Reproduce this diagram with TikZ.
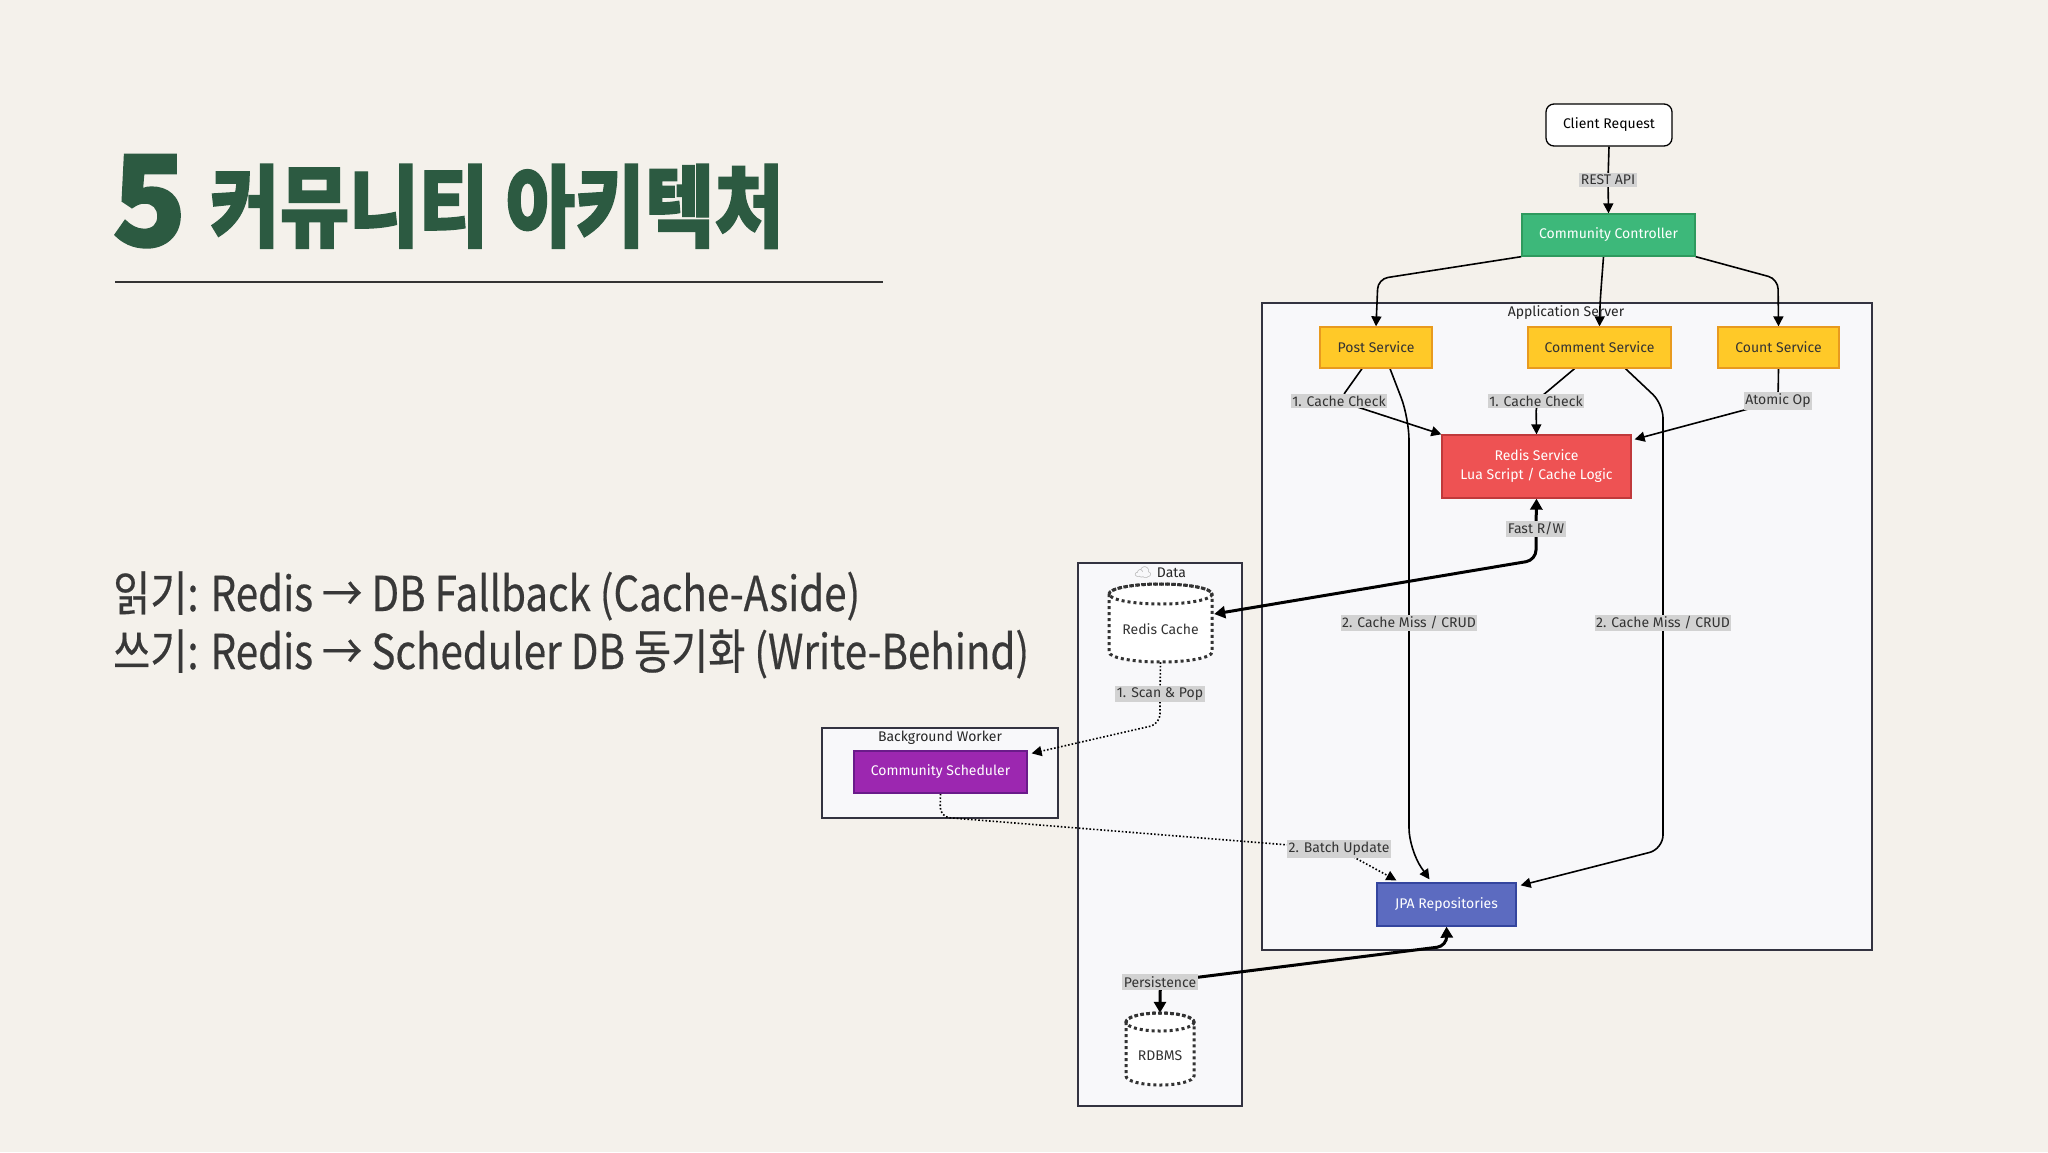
\documentclass[tikz,border=0pt]{standalone}
\usepackage{fontspec}
\usetikzlibrary{arrows.meta,calc}
\setmainfont{Fira Sans}
\newfontfamily\krfont{Noto Sans CJK KR}[FakeStretch=0.84, FakeBold=0.4]
\newfontfamily\krtitle{Noto Sans CJK KR}[FakeStretch=0.84, BoldFeatures={FakeBold=1.5}]
\newfontfamily\krfive{Noto Sans CJK KR}[FakeStretch=0.97, BoldFeatures={FakeBold=1.5}]
\newfontfamily\emojifont{Noto Emoji}
\definecolor{bgc}{HTML}{F4F1EB}
\definecolor{titlegreen}{HTML}{2C5A41}
\definecolor{bodytxt}{HTML}{383838}
\definecolor{clusf}{HTML}{F8F8FA}
\definecolor{clusb}{HTML}{333340}
\definecolor{lblgray}{HTML}{D2D2D2}
\definecolor{txtc}{HTML}{333333}
\definecolor{gfill}{HTML}{3DB87A}
\definecolor{gbord}{HTML}{2E9A5E}
\definecolor{yfill}{HTML}{FFC928}
\definecolor{ybord}{HTML}{E89A1E}
\definecolor{rfill}{HTML}{EE5253}
\definecolor{rbord}{HTML}{C0393B}
\definecolor{pfill}{HTML}{9C27B0}
\definecolor{pbord}{HTML}{6A1B8A}
\definecolor{bfill}{HTML}{5C6BC0}
\definecolor{bbord}{HTML}{34459E}
\pgfdeclarelayer{bglayer}
\pgfdeclarelayer{edgelayer}
\pgfsetlayers{bglayer,edgelayer,main}
\tikzset{
  nd/.style={draw, line width=1.3pt, inner sep=0pt, font=\fontsize{14}{17}\selectfont, align=center},
  lbl/.style={fill=lblgray, inner xsep=1.5pt, inner ysep=2pt, text=txtc, font=\fontsize{14}{16}\selectfont},
  clus/.style={draw=clusb, fill=clusf, line width=1.5pt},
  ctitle/.style={font=\fontsize{14}{16}\selectfont, text=black!85, inner sep=0pt},
  edge/.style={line width=1.6pt, -{Triangle[length=10pt,width=10pt]}, rounded corners=10pt},
  thk/.style={line width=3pt, {Triangle[length=11pt,width=12pt]}-{Triangle[length=11pt,width=12pt]}, rounded corners=10pt},
  dotedge/.style={line width=1.6pt, dotted, -{Triangle[length=10pt,width=10pt]}, rounded corners=10pt},
  cyl/.style={line width=3pt, dash pattern=on 3pt off 3pt, draw=black!80, fill=white},
}
\begin{document}
\begin{tikzpicture}[x=1pt,y=-1pt]
\useasboundingbox (0,0) rectangle (2048,1152);
\begin{pgfonlayer}{bglayer}
\fill[bgc] (0,0) rectangle (2048,1152);
\end{pgfonlayer}

% Title
\node[anchor=base west, inner sep=0pt, text=titlegreen, font=\krfive\bfseries\fontsize{126}{130}\selectfont] (five) at (112,246) {5};
\node[anchor=base west, inner sep=0pt, text=titlegreen, font=\krtitle\bfseries\fontsize{90}{95}\selectfont] (title) at (210,240) {커뮤니티 아키텍처};
\draw[line width=2pt, black!80] (115,282) -- (883,282);

% Body text
\node[anchor=base west, inner sep=0pt, text=bodytxt, font=\krfont\fontsize{48}{54}\selectfont] (line1) at (113,611) {읽기: Redis → DB Fallback (Cache-Aside)};
\node[anchor=base west, inner sep=0pt, text=bodytxt, font=\krfont\fontsize{48}{54}\selectfont] (line2) at (113,669) {쓰기: Redis → Scheduler DB 동기화 (Write-Behind)};

% Clusters
\begin{pgfonlayer}{bglayer}
\draw[clus] (1262,303) rectangle (1872,950);
\draw[clus] (1078,563) rectangle (1242,1106);
\draw[clus] (822,728) rectangle (1058,818);
\end{pgfonlayer}
\node[ctitle] (appt) at (1566,313) {Application Server};
\node[ctitle] (datat) at (1160,573) {{\emojifont\color{black!35}☁}\hspace{5pt}Data};
\node[ctitle] (bwt) at (940,738) {Background Worker};

% Nodes
\node[nd, fill=white, draw=black, rounded corners=8pt, minimum width=126pt, minimum height=42pt] (client) at (1609,125) {Client Request};
\node[nd, fill=gfill, draw=gbord, text=white, minimum width=173pt, minimum height=42pt] (ctrl) at (1608.5,235) {Community Controller};
\node[nd, fill=yfill, draw=ybord, text=txtc, minimum width=112pt, minimum height=41pt] (post) at (1376,347.5) {Post Service};
\node[nd, fill=yfill, draw=ybord, text=txtc, minimum width=143pt, minimum height=41pt] (comment) at (1599.5,347.5) {Comment Service};
\node[nd, fill=yfill, draw=ybord, text=txtc, minimum width=121pt, minimum height=41pt] (count) at (1778.5,347.5) {Count Service};
\node[nd, fill=rfill, draw=rbord, text=white, minimum width=189pt, minimum height=63pt] (redis) at (1536.5,466.5) {Redis Service\\[2pt]Lua Script / Cache Logic};
\node[nd, fill=bfill, draw=bbord, text=white, minimum width=139pt, minimum height=43pt] (jpa) at (1446.5,904.5) {JPA Repositories};
\node[nd, fill=pfill, draw=pbord, text=white, minimum width=173pt, minimum height=42pt] (sched) at (940.5,772) {Community Scheduler};

% Cylinders
\path[cyl] (1109,594) -- (1109,652) arc[start angle=180, end angle=0, x radius=51.5, y radius=10] -- (1212,594) arc[start angle=0, end angle=-180, x radius=51.5, y radius=10] -- cycle;
\draw[cyl, fill=none] (1160.5,594) ellipse [x radius=51.5, y radius=10];
\node[inner sep=0pt, minimum width=103pt, minimum height=78pt, font=\fontsize{14}{17}\selectfont, text=txtc] (rcache) at (1160.5,623) {\raisebox{-24pt}{Redis Cache}};

\path[cyl] (1126,1022) -- (1126,1076) arc[start angle=180, end angle=0, x radius=34, y radius=9] -- (1194,1022) arc[start angle=0, end angle=-180, x radius=34, y radius=9] -- cycle;
\draw[cyl, fill=none] (1160,1022) ellipse [x radius=34, y radius=9];
\node[inner sep=0pt, minimum width=68pt, minimum height=72pt, font=\fontsize{14}{17}\selectfont, text=txtc] (rdbms) at (1160,1049) {\raisebox{-24pt}{RDBMS}};

% Edge labels
\node[lbl] (lrest) at (1608,180) {REST API};
\node[lbl] (lcc1) at (1339,401) {1. Cache Check};
\node[lbl] (lcc2) at (1536,401) {1. Cache Check};
\node[lbl] (latom) at (1778,401) {Atomic Op};
\node[lbl] (lfast) at (1536,529) {Fast R/W};
\node[lbl] (lmiss1) at (1409,623) {2. Cache Miss / CRUD};
\node[lbl] (lmiss2) at (1663,623) {2. Cache Miss / CRUD};
\node[lbl] (lscan) at (1160,694) {1. Scan \& Pop};
\node[lbl] (lbatch) at (1339,849) {2. Batch Update};
\node[lbl] (lpers) at (1160,982) {Persistence};

% Edges
\begin{pgfonlayer}{edgelayer}
\draw[edge] (client.south) -- (lrest.center) -- (ctrl.north);
\draw[edge] (ctrl.south west) -- (1378,279) -- (post.north);
\draw[edge] ($(ctrl.south)+(-5,0)$) .. controls (1601,290) and (1600,300) .. (comment.north);
\draw[edge] (ctrl.south east) -- (1778,279) -- (count.north);
\draw[edge] ($(post.south)+(-14,0)$) -- (lcc1.center) -- (redis.north west);
\draw[edge] ($(comment.south)+(-25,0)$) -- (lcc2.center) -- (redis.north);
\draw[edge] (count.south) -- (latom.center) -- ($(redis.north east)+(3,5)$);
\draw[edge, rounded corners=22pt] ($(post.south)+(14,0)$) -- (1409,418) -- (lmiss1.center) -- (1409,850) -- ($(jpa.north)+(-17,-3)$);
\draw[edge, rounded corners=14pt] ($(comment.south)+(26,0)$) -- (1663,404) -- (lmiss2.center) -- (1663,849) -- ($(jpa.north east)+(4,3)$);
\draw[thk] (redis.south) -- (lfast.center) -- (1536,560) -- ($(rcache.east)+(2,-9)$);
\draw[dotedge] (rcache.south) -- (lscan.center) -- (1160,724) -- ($(sched.north east)+(4,3)$);
\draw[dotedge] (sched.south) -- (940,817) -- (lbatch.center) -- ($(jpa.north west)+(20,-2)$);
\draw[thk] (jpa.south) -- (1447,946) -- (lpers.center) -- (rdbms.north);
\end{pgfonlayer}
\end{tikzpicture}
\end{document}
